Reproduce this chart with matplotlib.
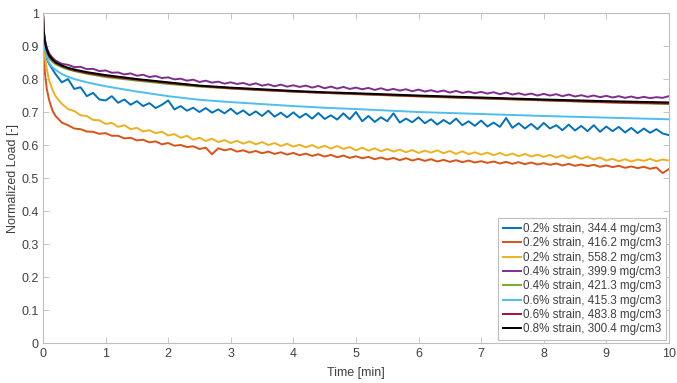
import numpy as np
import matplotlib
matplotlib.use("Agg")
import matplotlib.pyplot as plt

# sample times (min)
t_smooth = [0, 0.01, 0.03, 0.06, 0.1, 0.15, 0.2, 0.3, 0.4, 0.5, 0.7, 1, 1.5, 2, 2.5,
            3, 3.5, 4, 4.5, 5, 6, 7, 8, 9, 10]
t_noisy = [0, 0.01, 0.03, 0.06, 0.1, 0.15] + [round(0.2 + 0.1 * i, 1) for i in range(99)]

# noisy series
blue_344 = [1.0, 0.94, 0.90, 0.86, 0.845, 0.83,
            0.815, 0.790, 0.800, 0.770, 0.775, 0.748, 0.758, 0.738, 0.735, 0.748,
            0.728, 0.738, 0.722, 0.733, 0.718, 0.727, 0.712, 0.722, 0.735, 0.708,
            0.718, 0.704, 0.713, 0.700, 0.712, 0.698, 0.708, 0.696, 0.710, 0.694,
            0.705, 0.690, 0.702, 0.688, 0.704, 0.686, 0.698, 0.684, 0.699, 0.683,
            0.695, 0.680, 0.697, 0.679, 0.690, 0.677, 0.696, 0.678, 0.700, 0.672,
            0.688, 0.670, 0.684, 0.672, 0.696, 0.668, 0.680, 0.669, 0.684, 0.666,
            0.678, 0.662, 0.676, 0.664, 0.680, 0.660, 0.672, 0.658, 0.674, 0.656,
            0.668, 0.655, 0.682, 0.652, 0.666, 0.650, 0.664, 0.648, 0.667, 0.650,
            0.660, 0.645, 0.662, 0.644, 0.658, 0.642, 0.660, 0.640, 0.656, 0.642,
            0.655, 0.638, 0.652, 0.636, 0.650, 0.637, 0.648, 0.635, 0.630]
orange_416 = [1.0, 0.90, 0.82, 0.77, 0.735, 0.705,
              0.688, 0.668, 0.660, 0.650, 0.648, 0.641, 0.640, 0.634, 0.636, 0.628,
              0.628, 0.620, 0.622, 0.614, 0.616, 0.608, 0.611, 0.602, 0.606, 0.598,
              0.600, 0.594, 0.596, 0.588, 0.592, 0.572, 0.590, 0.584, 0.588, 0.580,
              0.584, 0.577, 0.582, 0.575, 0.580, 0.573, 0.578, 0.571, 0.576, 0.569,
              0.574, 0.567, 0.572, 0.565, 0.570, 0.563, 0.568, 0.561, 0.566, 0.560,
              0.564, 0.557, 0.562, 0.556, 0.561, 0.554, 0.560, 0.553, 0.558, 0.552,
              0.557, 0.550, 0.555, 0.549, 0.554, 0.548, 0.553, 0.547, 0.551, 0.546,
              0.550, 0.544, 0.549, 0.543, 0.548, 0.542, 0.547, 0.541, 0.545, 0.540,
              0.544, 0.538, 0.543, 0.537, 0.541, 0.536, 0.540, 0.534, 0.538, 0.533,
              0.537, 0.531, 0.535, 0.530, 0.534, 0.528, 0.532, 0.515, 0.527]
yellow_558 = [1.0, 0.92, 0.87, 0.83, 0.795, 0.768,
              0.748, 0.725, 0.709, 0.703, 0.690, 0.688, 0.676, 0.675, 0.664, 0.667,
              0.655, 0.660, 0.648, 0.652, 0.641, 0.645, 0.636, 0.640, 0.629, 0.633,
              0.622, 0.628, 0.616, 0.622, 0.612, 0.619, 0.609, 0.615, 0.606, 0.613,
              0.604, 0.611, 0.602, 0.609, 0.600, 0.606, 0.597, 0.604, 0.595, 0.601,
              0.593, 0.600, 0.591, 0.598, 0.589, 0.597, 0.588, 0.594, 0.584, 0.592,
              0.583, 0.590, 0.581, 0.588, 0.580, 0.586, 0.578, 0.585, 0.576, 0.583,
              0.577, 0.584, 0.575, 0.582, 0.573, 0.581, 0.572, 0.578, 0.571, 0.577,
              0.569, 0.576, 0.568, 0.574, 0.566, 0.573, 0.565, 0.571, 0.564, 0.570,
              0.562, 0.569, 0.560, 0.567, 0.558, 0.565, 0.556, 0.562, 0.553, 0.558,
              0.551, 0.557, 0.550, 0.556, 0.552, 0.558, 0.551, 0.556, 0.553]
purple_400 = [1.0, 0.95, 0.92, 0.895, 0.877, 0.865,
              0.856, 0.846, 0.843, 0.836, 0.837, 0.830, 0.831, 0.824, 0.826, 0.819,
              0.820, 0.814, 0.817, 0.810, 0.813, 0.806, 0.809, 0.803, 0.805, 0.799,
              0.801, 0.795, 0.798, 0.791, 0.795, 0.789, 0.792, 0.786, 0.790, 0.785,
              0.788, 0.782, 0.787, 0.780, 0.784, 0.778, 0.783, 0.777, 0.781, 0.776,
              0.780, 0.774, 0.779, 0.772, 0.777, 0.771, 0.776, 0.770, 0.774, 0.769,
              0.773, 0.767, 0.772, 0.766, 0.770, 0.765, 0.769, 0.763, 0.768, 0.762,
              0.766, 0.761, 0.765, 0.759, 0.764, 0.758, 0.762, 0.757, 0.761, 0.756,
              0.760, 0.754, 0.759, 0.753, 0.757, 0.752, 0.756, 0.750, 0.755, 0.750,
              0.754, 0.748, 0.753, 0.747, 0.751, 0.746, 0.750, 0.745, 0.749, 0.744,
              0.748, 0.743, 0.747, 0.742, 0.746, 0.742, 0.745, 0.743, 0.748]

# smoother series
green_421 = [1.0, 0.945, 0.905, 0.88, 0.863, 0.852, 0.845, 0.836, 0.829, 0.824, 0.816,
             0.806, 0.795, 0.785, 0.777, 0.771, 0.766, 0.762, 0.758, 0.754, 0.747,
             0.741, 0.735, 0.729, 0.724]
lblue_415 = [1.0, 0.93, 0.89, 0.865, 0.848, 0.836, 0.828, 0.815, 0.807, 0.80, 0.79,
             0.778, 0.762, 0.748, 0.737, 0.73, 0.724, 0.718, 0.713, 0.709, 0.70,
             0.694, 0.688, 0.683, 0.678]
red_484 = [1.0, 0.948, 0.91, 0.885, 0.868, 0.857, 0.849, 0.839, 0.832, 0.826, 0.818,
           0.809, 0.798, 0.788, 0.779, 0.772, 0.767, 0.762, 0.758, 0.755, 0.748,
           0.742, 0.736, 0.730, 0.726]
black_300 = [1.0, 0.95, 0.915, 0.89, 0.872, 0.86, 0.851, 0.841, 0.834, 0.829, 0.821,
             0.812, 0.800, 0.790, 0.780, 0.774, 0.769, 0.764, 0.760, 0.757, 0.750,
             0.744, 0.738, 0.733, 0.729]

labels = ['0.2% strain, 344.4 mg/cm3', '0.2% strain, 416.2 mg/cm3',
          '0.2% strain, 558.2 mg/cm3', '0.4% strain, 399.9 mg/cm3',
          '0.4% strain, 421.3 mg/cm3', '0.6% strain, 415.3 mg/cm3',
          '0.6% strain, 483.8 mg/cm3', '0.8% strain, 300.4 mg/cm3']
colors = ['#0072BD', '#D95319', '#EDB120', '#7E2F8E', '#77AC30', '#4DBEEE',
          '#A2142F', '#000000']

series = [(t_noisy, blue_344), (t_noisy, orange_416), (t_noisy, yellow_558),
          (t_noisy, purple_400), (t_smooth, green_421), (t_smooth, lblue_415),
          (t_smooth, red_484), (t_smooth, black_300)]

plt.rcParams['font.family'] = ['Liberation Sans', 'DejaVu Sans']
fig = plt.figure(figsize=(6.77, 3.83), dpi=100)
ax = fig.add_axes([0.0635, 0.1044, 0.9245, 0.8616])

for (t, y), c, lab in zip(series, colors, labels):
    ax.plot(t, y, color=c, lw=1.4, label=lab)

ax.set_xlim(0, 10)
ax.set_ylim(0, 1)
ax.set_xticks(range(0, 11))
ax.set_yticks([i / 10 for i in range(11)])
ax.set_yticklabels(['0', '0.1', '0.2', '0.3', '0.4', '0.5', '0.6', '0.7', '0.8', '0.9', '1'])
ax.tick_params(direction='in', length=4, width=0.6, colors='#bdbdbd',
               labelcolor='#404040', labelsize=9, top=True, right=True)
ax.tick_params(axis='y', pad=3)
for s in ax.spines.values():
    s.set_color('#bdbdbd')
    s.set_linewidth(0.8)
ax.set_xlabel('Time [min]', fontsize=9, color='#404040', labelpad=5)
ax.set_ylabel('Normalized Load [-]', fontsize=9, color='#404040')
ax.yaxis.set_label_coords(-0.038, 0.5)

leg = ax.legend(loc='lower right', fontsize=8.4, handlelength=1.6, handletextpad=0.15,
                labelspacing=0.2, borderpad=0.4, borderaxespad=0.25,
                fancybox=False, framealpha=1)
leg.get_frame().set_edgecolor('#bdbdbd')
leg.get_frame().set_linewidth(0.8)
for txt in leg.get_texts():
    txt.set_color('#404040')

fig.savefig('out.png', dpi=100)
